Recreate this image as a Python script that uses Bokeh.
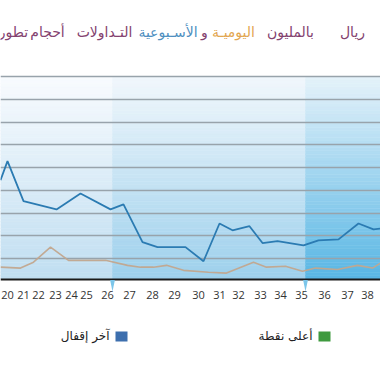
from bokeh.plotting import figure
from bokeh.models import Range1d, FixedTicker, Label, PolyAnnotation
from bokeh.embed import file_html
from bokeh.resources import INLINE

# ---- data ----
week_ticks = [20.0, 20.8, 21.55, 22.4, 23.2, 23.95, 25.0, 26.1, 27.25, 28.35,
              29.55, 30.6, 31.55, 32.65, 33.65, 34.7, 35.85, 37.0, 38.0]
week_labels = ["20", "21", "22", "23", "24", "25", "26", "27", "28", "29",
               "30", "31", "32", "33", "34", "35", "36", "37", "38"]

weekly_x = [19.65, 20.0, 20.8, 22.45, 23.65, 25.15, 25.8, 26.75, 27.5, 28.9, 29.8,
            30.6, 31.25, 32.1, 32.75, 33.5, 34.8, 35.55, 36.55, 37.55, 38.3, 38.65]
weekly_v = [222, 264, 176, 158, 193, 158, 169, 86, 75, 75, 44,
            127, 112, 121, 84, 88, 79, 90, 92, 127, 114, 116]

daily_x = [19.65, 20.65, 21.3, 22.15, 23.05, 24.9, 26.0, 26.65, 27.3, 27.95, 28.8,
           30.05, 30.95, 32.3, 32.95, 33.9, 34.75, 35.4, 36.5, 37.5, 38.25, 38.65]
daily_v = [31, 29, 42, 75, 46, 46, 35, 31, 31, 35, 24,
           20, 18, 42, 31, 33, 22, 29, 26, 35, 29, 40]

period_edges = [19.65, 25.25, 34.9, 38.65]
grid_values = [50, 100, 150, 200, 250, 300, 350, 400, 450]

# title words, in the order in which they appear from left to right
title_words = ["تطور", "أحجام", "التـداولات", "الأسـبوعية", "و", "اليوميـة", "بالمليون", "ريال"]
legend_labels = ["آخر إقفال", "أعلى نقطة"]

# ---- layout helpers (pixel -> data) ----
W, H = 380, 372
X0, X1 = 19.65, 38.65
G_TOP_PX, G_BOT_PX = 76.0, 278.5      # chart area (top gridline / axis line)
Y_TOP, Y_BOT = 450.0, 5.0
UPP = (Y_TOP - Y_BOT) / (G_BOT_PX - G_TOP_PX)


def px2x(px):
    return X0 + px * (X1 - X0) / W


def py2y(py):
    return Y_TOP - (py - G_TOP_PX) * UPP


p = figure(width=W, height=H, x_range=Range1d(X0, X1),
           y_range=Range1d(py2y(H), py2y(0)),
           output_backend="svg", toolbar_location=None, y_axis_location=None,
           min_border=0, min_border_left=0, min_border_right=0,
           min_border_top=0, min_border_bottom=0, outline_line_color=None,
           background_fill_color="white", border_fill_color="white")


def hex2rgb(h):
    return tuple(int(h[i:i + 2], 16) for i in (1, 3, 5))


def mix(a, b, t):
    ca, cb = hex2rgb(a), hex2rgb(b)
    return "#%02x%02x%02x" % tuple(int(round(ca[i] + (cb[i] - ca[i]) * t)) for i in range(3))


band_cols = [("#f8fbfe", "#c0def1"), ("#f1f7fc", "#9dd0ec"), ("#e5f2fa", "#58b6e4")]
N = 60
for i in range(3):
    l, r = period_edges[i], period_edges[i + 1]
    tops, bots, cols = [], [], []
    for k in range(N):
        tops.append(Y_TOP - (Y_TOP - Y_BOT) * k / N)
        bots.append(Y_TOP - (Y_TOP - Y_BOT) * (k + 1) / N)
        cols.append(mix(band_cols[i][0], band_cols[i][1], (k + 0.5) / N))
    p.quad(left=[l] * N, right=[r] * N, top=tops, bottom=bots, fill_color=cols,
           line_color=cols, line_width=0.5, level="image")

p.xgrid.visible = False
p.ygrid.ticker = FixedTicker(ticks=grid_values)
p.ygrid.grid_line_color = "#98a3ab"
p.ygrid.grid_line_width = 1.5

p.line(daily_x, daily_v, line_color="#c2a68e", line_width=1.6, line_alpha=0.95)
p.line(weekly_x, weekly_v, line_color="#2b7bb2", line_width=1.8)

ax = p.xaxis[0]
ax.fixed_location = Y_BOT
ax.ticker = FixedTicker(ticks=week_ticks)
ax.major_label_overrides = {t: l for t, l in zip(week_ticks, week_labels)}
ax.axis_line_color = "#1a1a1a"
ax.axis_line_width = 2
ax.major_tick_line_color = None
ax.minor_tick_line_color = None
ax.major_label_standoff = 6
ax.major_label_text_font = "Open Sans"
ax.major_label_text_font_size = "11px"
ax.major_label_text_color = "#333333"

# small pointers below period boundaries
for b in period_edges[1:3]:
    p.add_layout(PolyAnnotation(xs=[b - 0.12, b + 0.12, b], ys=[py2y(279.5), py2y(279.5), py2y(291)],
                                fill_color="#7cc6ea", fill_alpha=1, line_color=None))

# title (multi-coloured, one label per word)
PUR, BLU, ORA = "#84426f", "#4f8fbf", "#e2a650"
title_cols = [PUR, PUR, PUR, BLU, PUR, ORA, PUR, PUR]
title_cx = [13, 47, 104, 167.5, 204, 233, 290, 352]
for txt, c, cx in zip(title_words, title_cols, title_cx):
    p.add_layout(Label(x=px2x(cx), y=py2y(31), text=txt, text_color=c,
                       text_align="center", text_baseline="middle",
                       text_font="DejaVu Sans", text_font_size="14px"))

# legend
sq_cols = ["#3d6fae", "#3f9a3f"]
sq_x = [115, 318]
lab_right = [109, 312]
for lab, c, sx, lr in zip(legend_labels, sq_cols, sq_x, lab_right):
    p.add_layout(PolyAnnotation(xs=[px2x(sx), px2x(sx + 12), px2x(sx + 12), px2x(sx)],
                                ys=[py2y(331), py2y(331), py2y(341), py2y(341)],
                                fill_color=c, fill_alpha=1, line_color=None))
    p.add_layout(Label(x=px2x(lr), y=py2y(335), text=lab, text_color="#222222",
                       text_align="right", text_baseline="middle",
                       text_font="DejaVu Sans", text_font_size="12px"))

open("out.html", "w").write(file_html(p, INLINE))
